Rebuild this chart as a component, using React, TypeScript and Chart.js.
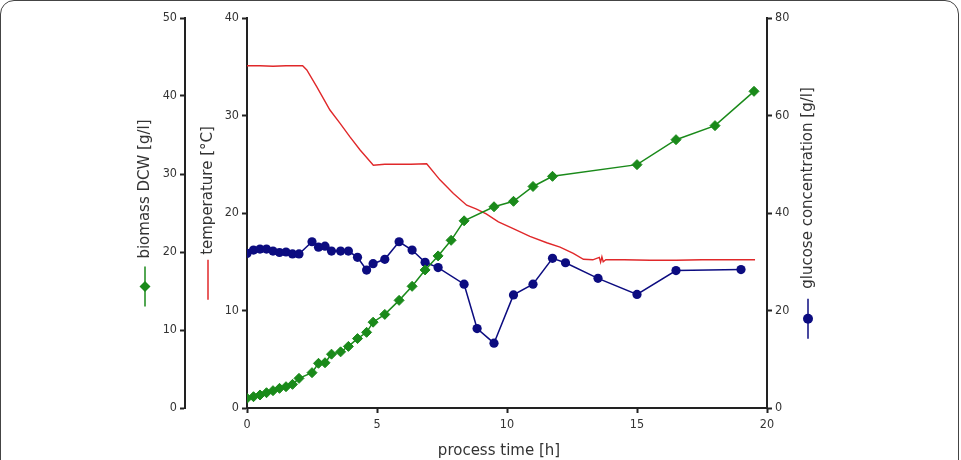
import React, { useEffect, useRef } from "react";
import { Chart, registerables } from "chart.js";

Chart.register(...registerables);

// ---- data ----
const biomassTimes = [0, 0.25, 0.5, 0.75, 1, 1.25, 1.5, 1.75, 2, 2.5, 2.75, 3, 3.25, 3.6, 3.9, 4.25, 4.6, 4.85, 5.3, 5.85, 6.35, 6.85, 7.35, 7.85, 8.35, 9.5, 10.25, 11, 11.75, 15, 16.5, 18, 19.5];
const biomassValues = [1.24, 1.45, 1.67, 1.96, 2.22, 2.52, 2.73, 3.03, 3.8, 4.53, 5.73, 5.8, 6.9, 7.2, 7.9, 8.9, 9.7, 11.0, 12.0, 13.8, 15.6, 17.7, 19.5, 21.5, 24.0, 25.8, 26.5, 28.4, 29.7, 31.2, 34.4, 36.2, 40.6];

const glucoseTimes = [0, 0.25, 0.5, 0.75, 1, 1.25, 1.5, 1.75, 2, 2.5, 2.75, 3, 3.25, 3.6, 3.9, 4.25, 4.6, 4.85, 5.3, 5.85, 6.35, 6.85, 7.35, 8.35, 8.85, 9.5, 10.25, 11, 11.75, 12.25, 13.5, 15, 16.5, 19];
const glucoseValues = [31.7, 32.4, 32.6, 32.6, 32.2, 31.9, 32.0, 31.6, 31.6, 34.1, 33.0, 33.2, 32.2, 32.2, 32.2, 30.9, 28.3, 29.6, 30.5, 34.1, 32.4, 29.9, 28.8, 25.4, 16.3, 13.3, 23.2, 25.4, 30.7, 29.8, 26.6, 23.3, 28.2, 28.4];

const temperatureTimes = [0, 0.5, 1, 1.5, 2.0, 2.14, 2.3, 2.68, 3.19, 3.58, 3.96, 4.35, 4.86, 5.3, 5.8, 6.3, 6.91, 7.42, 7.94, 8.45, 8.83, 9.2, 9.67, 10.24, 10.88, 11.53, 12.04, 12.55, 12.94, 13.3, 13.55, 13.6, 13.65, 13.7, 13.8, 14.5, 15.5, 16.5, 17.5, 18.5, 19.54];
const temperatureValues = [35.1, 35.1, 35.05, 35.1, 35.1, 35.1, 34.67, 32.96, 30.56, 29.2, 27.8, 26.46, 24.9, 25.0, 25.0, 25.0, 25.05, 23.4, 22.0, 20.8, 20.4, 19.9, 19.1, 18.4, 17.6, 16.95, 16.5, 15.86, 15.25, 15.2, 15.45, 14.95, 15.5, 15.0, 15.2, 15.2, 15.15, 15.15, 15.2, 15.2, 15.2];

const xTicks = [0, 5, 10, 15, 20];

const TICK_FONT = "'DejaVu Sans Condensed', 'DejaVu Sans', sans-serif";
const TITLE_FONT = "'DejaVu Sans', sans-serif";
const GREEN = "#1a8a1a";
const BLUE = "#0c0c80";
const RED = "#e0282a";
const AXIS = "#222";
const TEXT = "#333";

function axisCommon(afterFit: (s: any) => void) {
  return {
    grid: { drawOnChartArea: false, drawTicks: true, tickLength: 5, tickColor: AXIS, tickWidth: 2 },
    border: { color: AXIS, width: 2 },
    afterFit,
  };
}
const tickFont = { family: TICK_FONT, size: 12.5 };

const titlePlugin = {
  id: "verticalTitles",
  afterDraw(chart: any) {
    const { ctx, chartArea } = chart;
    const cy = (chartArea.top + chartArea.bottom) / 2;
    ctx.save();
    ctx.font = `15px ${TITLE_FONT}`;
    ctx.fillStyle = TEXT;
    const drawV = (x: number, text: string, color: string, marker: string | null, gap: number) => {
      const S = 40;
      const L = ctx.measureText(text).width;
      const total = S + gap + L;
      ctx.save();
      ctx.translate(x, cy);
      ctx.rotate(-Math.PI / 2);
      const start = -total / 2;
      ctx.strokeStyle = color;
      ctx.lineWidth = 1.5;
      ctx.beginPath();
      ctx.moveTo(start, 0);
      ctx.lineTo(start + S, 0);
      ctx.stroke();
      ctx.fillStyle = color;
      if (marker === "diamond") {
        const m = start + S / 2;
        ctx.beginPath();
        ctx.moveTo(m - 5.5, 0);
        ctx.lineTo(m, 5.5);
        ctx.lineTo(m + 5.5, 0);
        ctx.lineTo(m, -5.5);
        ctx.closePath();
        ctx.fill();
      } else if (marker === "circle") {
        ctx.beginPath();
        ctx.arc(start + S / 2, 0, 5, 0, Math.PI * 2);
        ctx.fill();
      }
      ctx.fillStyle = TEXT;
      ctx.textAlign = "left";
      ctx.textBaseline = "middle";
      ctx.fillText(text, start + S + gap, 0);
      ctx.restore();
    };
    drawV(145, "biomass DCW [g/l]", GREEN, "diamond", 8);
    drawV(208, "temperature [°C]", RED, null, 5);
    drawV(808, "glucose concentration [g/l]", BLUE, "circle", 10);
    ctx.fillStyle = TEXT;
    ctx.textAlign = "center";
    ctx.textBaseline = "middle";
    ctx.fillText("process time [h]", 499, 451);
    ctx.restore();
  },
};

export default function App() {
  const ref = useRef<HTMLCanvasElement>(null);
  useEffect(() => {
    document.body.style.margin = "0";
    const chart = new Chart(ref.current as HTMLCanvasElement, {
      type: "line",
      data: {
        datasets: [
          {
            label: "biomass DCW [g/l]",
            data: biomassTimes.map((t, i) => ({ x: t, y: biomassValues[i] })),
            yAxisID: "yBio",
            borderColor: GREEN,
            backgroundColor: GREEN,
            borderWidth: 1.5,
            pointStyle: "rectRot",
            pointRadius: 5,
            pointBorderWidth: 1,
            order: 1,
          },
          {
            label: "glucose concentration [g/l]",
            data: glucoseTimes.map((t, i) => ({ x: t, y: glucoseValues[i] })),
            yAxisID: "yGlu",
            borderColor: BLUE,
            backgroundColor: BLUE,
            borderWidth: 1.5,
            pointStyle: "circle",
            pointRadius: 4.6,
            pointBorderWidth: 0,
            order: 2,
          },
          {
            label: "temperature [°C]",
            data: temperatureTimes.map((t, i) => ({ x: t, y: temperatureValues[i] })),
            yAxisID: "yTemp",
            borderColor: RED,
            borderWidth: 1.4,
            pointRadius: 0,
            order: 3,
          },
        ],
      } as any,
      options: {
        animation: false,
        responsive: false,
        layout: { padding: { top: 18, left: 0, right: 0, bottom: 0 } },
        plugins: { legend: { display: false }, tooltip: { enabled: false } },
        scales: {
          x: {
            type: "linear",
            min: 0,
            max: 20,
            afterBuildTicks: (s: any) => { s.ticks = xTicks.map((v) => ({ value: v })); },
            ...axisCommon((s: any) => { s.height = 52; }),
            ticks: { color: TEXT, font: tickFont, padding: 4 },
          },
          yBio: {
            type: "linear",
            position: "left",
            weight: 1,
            min: 0,
            max: 50,
            ...axisCommon((s: any) => { s.width = 185; }),
            ticks: { color: TEXT, font: tickFont, padding: 3, stepSize: 10 },
          },
          yTemp: {
            type: "linear",
            position: "left",
            weight: 0,
            min: 0,
            max: 40,
            ...axisCommon((s: any) => { s.width = 62; }),
            ticks: { color: TEXT, font: tickFont, padding: 3, stepSize: 10 },
          },
          yGlu: {
            type: "linear",
            position: "right",
            min: 0,
            max: 80,
            ...axisCommon((s: any) => { s.width = 194; }),
            ticks: { color: TEXT, font: tickFont, padding: 3, stepSize: 20 },
          },
        },
      } as any,
      plugins: [titlePlugin],
    });
    return () => chart.destroy();
  }, []);
  return (
    <div style={{ position: "fixed", left: 0, top: 0, width: 961, height: 460, overflow: "hidden", background: "#fff" }}>
      <div style={{ position: "absolute", left: 0, top: 0, width: 957, height: 490, border: "1.5px solid #444", borderRadius: 14, boxSizing: "content-box" }} />
      <canvas ref={ref} width={961} height={460} style={{ position: "absolute", left: 0, top: 0 }} />
    </div>
  );
}
